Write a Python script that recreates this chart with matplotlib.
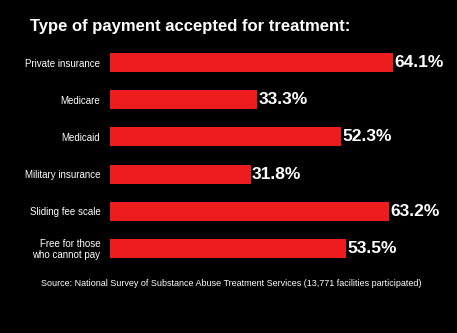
import matplotlib.pyplot as plt

categories = ["Private insurance", "Medicare", "Medicaid", "Military insurance",
              "Sliding fee scale", "Free for those\nwho cannot pay"]
values = [64.1, 33.3, 52.3, 31.8, 63.2, 53.5]

plt.rcParams['font.family'] = ['Liberation Sans', 'DejaVu Sans']

fig = plt.figure(figsize=(4.57, 3.33), dpi=100, facecolor='black')
ax = fig.add_axes([0.2407, 0.198, 0.7593, 0.67], facecolor='black')

ypos = list(range(len(categories)))
ax.barh(ypos, values, height=0.51, color='#ec1c1f', edgecolor='none')

for y, v in zip(ypos, values):
    ax.text(v + 0.3, y, f"{v}%", color='white', fontsize=12.5, fontweight='bold',
            va='center', ha='left')

ax.set_yticks(ypos)
ax.set_yticklabels(categories, color='white', fontsize=7, linespacing=1.1)
ax.tick_params(axis='y', length=0, pad=7)
ax.set_xticks([])
ax.set_xlim(0, 78.5)
ax.set_ylim(len(categories) - 0.5, -0.5)
for s in ax.spines.values():
    s.set_visible(False)

fig.text(0.066, 0.92, "Type of payment accepted for treatment:", color='white',
         fontsize=12, fontweight='bold', ha='left', va='center')
fig.text(0.507, 0.15, "Source: National Survey of Substance Abuse Treatment Services "
         "(13,771 facilities participated)", color='white', fontsize=6.45,
         ha='center', va='center')

fig.savefig("out.png", dpi=100, facecolor='black')
